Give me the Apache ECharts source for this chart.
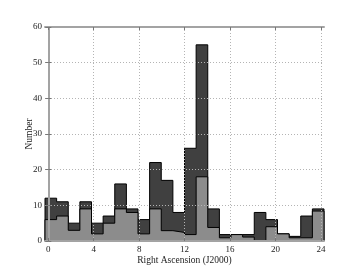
<!DOCTYPE html>
<html>
<head>
<meta charset="utf-8">
<script src="https://cdn.jsdelivr.net/npm/echarts@6/dist/echarts.min.js"></script>
<style>
html,body{margin:0;padding:0;background:#fff;}
#chart{width:360px;height:270px;}
</style>
</head>
<body>
<div id="chart"></div>
<script>
// Histogram range (Right Ascension, hours) and number of bins
const RA_MIN = -0.29;
const RA_MAX = 24.27;
const N_BINS = 24;
// Counts per bin: all objects (dark) and subset (light)
const allCounts    = [12, 11, 5, 11, 5, 7, 16, 9, 6, 22, 17, 8, 26, 55, 9, 1.8, 1.8, 1.8, 8, 6, 2, 1.3, 7, 9];
const subsetCounts = [6, 7, 3, 9, 2, 5, 9, 8, 2, 9, 2.9, 2.4, 1.8, 18, 3.8, 0.9, 1.8, 1.1, 0, 4, 2, 0.9, 0.9, 8.4];
// Tick labels
const xTicks = [0, 4, 8, 12, 16, 20, 24];
const yTicks = [0, 10, 20, 30, 40, 50, 60];

const binW = (RA_MAX - RA_MIN) / N_BINS;
const binEdges = Array.from({length: N_BINS + 1}, (_, i) => RA_MIN + i * binW);

function stepData(counts) {
  const d = [[binEdges[0], 0]];
  counts.forEach((c, i) => d.push([binEdges[i], c]));
  d.push([binEdges[N_BINS], counts[N_BINS - 1]]);
  d.push([binEdges[N_BINS], 0]);
  return d;
}

const FONT = 'Liberation Serif';
const frame = '#a3a3a3';
const gridC = '#b4b4b4';

const chart = echarts.init(document.getElementById('chart'), null, {renderer: 'canvas'});
const baseX = {
  type: 'value', min: RA_MIN, max: RA_MAX,
  axisLine: {show: true, onZero: false, lineStyle: {color: frame, width: 2}},
  splitLine: {show: false}
};
const baseY = {
  type: 'value', min: yTicks[0], max: yTicks[yTicks.length - 1], interval: yTicks[1] - yTicks[0],
  axisLine: {show: true, lineStyle: {color: frame, width: 2}}
};
chart.setOption({
  animation: false,
  grid: {left: 45, right: 36, top: 27, bottom: 28},
  xAxis: [
    Object.assign({}, baseX, {
      position: 'bottom', z: 5,
      name: 'Right Ascension (J2000)', nameLocation: 'middle', nameGap: 14, nameMoveOverlap: false,
      nameTextStyle: {fontFamily: FONT, fontSize: 9.5, color: '#222'},
      axisTick: {show: true, inside: true, length: 3, customValues: xTicks, lineStyle: {color: '#777'}},
      axisLabel: {show: true, customValues: xTicks, fontFamily: FONT, fontSize: 9, color: '#222', margin: 4}
    }),
    Object.assign({}, baseX, {
      position: 'top', z: 5,
      axisTick: {show: true, inside: true, length: 3, customValues: xTicks, lineStyle: {color: '#777'}},
      axisLabel: {show: false}
    })
  ],
  yAxis: [
    Object.assign({}, baseY, {
      position: 'left', z: 5,
      name: 'Number', nameLocation: 'middle', nameGap: 11, nameRotate: 90, nameMoveOverlap: false,
      nameTextStyle: {fontFamily: FONT, fontSize: 9.5, color: '#222'},
      axisTick: {show: true, inside: true, length: 3, lineStyle: {color: '#777'}},
      axisLabel: {fontFamily: FONT, fontSize: 9, color: '#222', margin: 3},
      splitLine: {show: true, lineStyle: {color: gridC, type: [1, 2], width: 1}}
    }),
    Object.assign({}, baseY, {
      position: 'right', z: 5,
      axisTick: {show: true, inside: true, length: 3, lineStyle: {color: '#777'}},
      axisLabel: {show: false},
      splitLine: {show: false}
    })
  ],
  series: [
    {
      type: 'line', step: 'end', data: stepData(allCounts), symbol: 'none', z: 2,
      lineStyle: {color: '#000', width: 1},
      areaStyle: {color: '#404040', opacity: 1}
    },
    {
      type: 'line', step: 'end', data: stepData(subsetCounts), symbol: 'none', z: 3,
      lineStyle: {color: '#000', width: 1},
      areaStyle: {color: '#8c8c8c', opacity: 1}
    },
    {
      type: 'line', data: [], z: 4, silent: true,
      markLine: {
        silent: true, symbol: 'none', animation: false,
        label: {show: false},
        lineStyle: {color: gridC, type: [1, 2], width: 1},
        data: xTicks.map(v => ({xAxis: v}))
      }
    }
  ]
});
</script>
</body>
</html>
